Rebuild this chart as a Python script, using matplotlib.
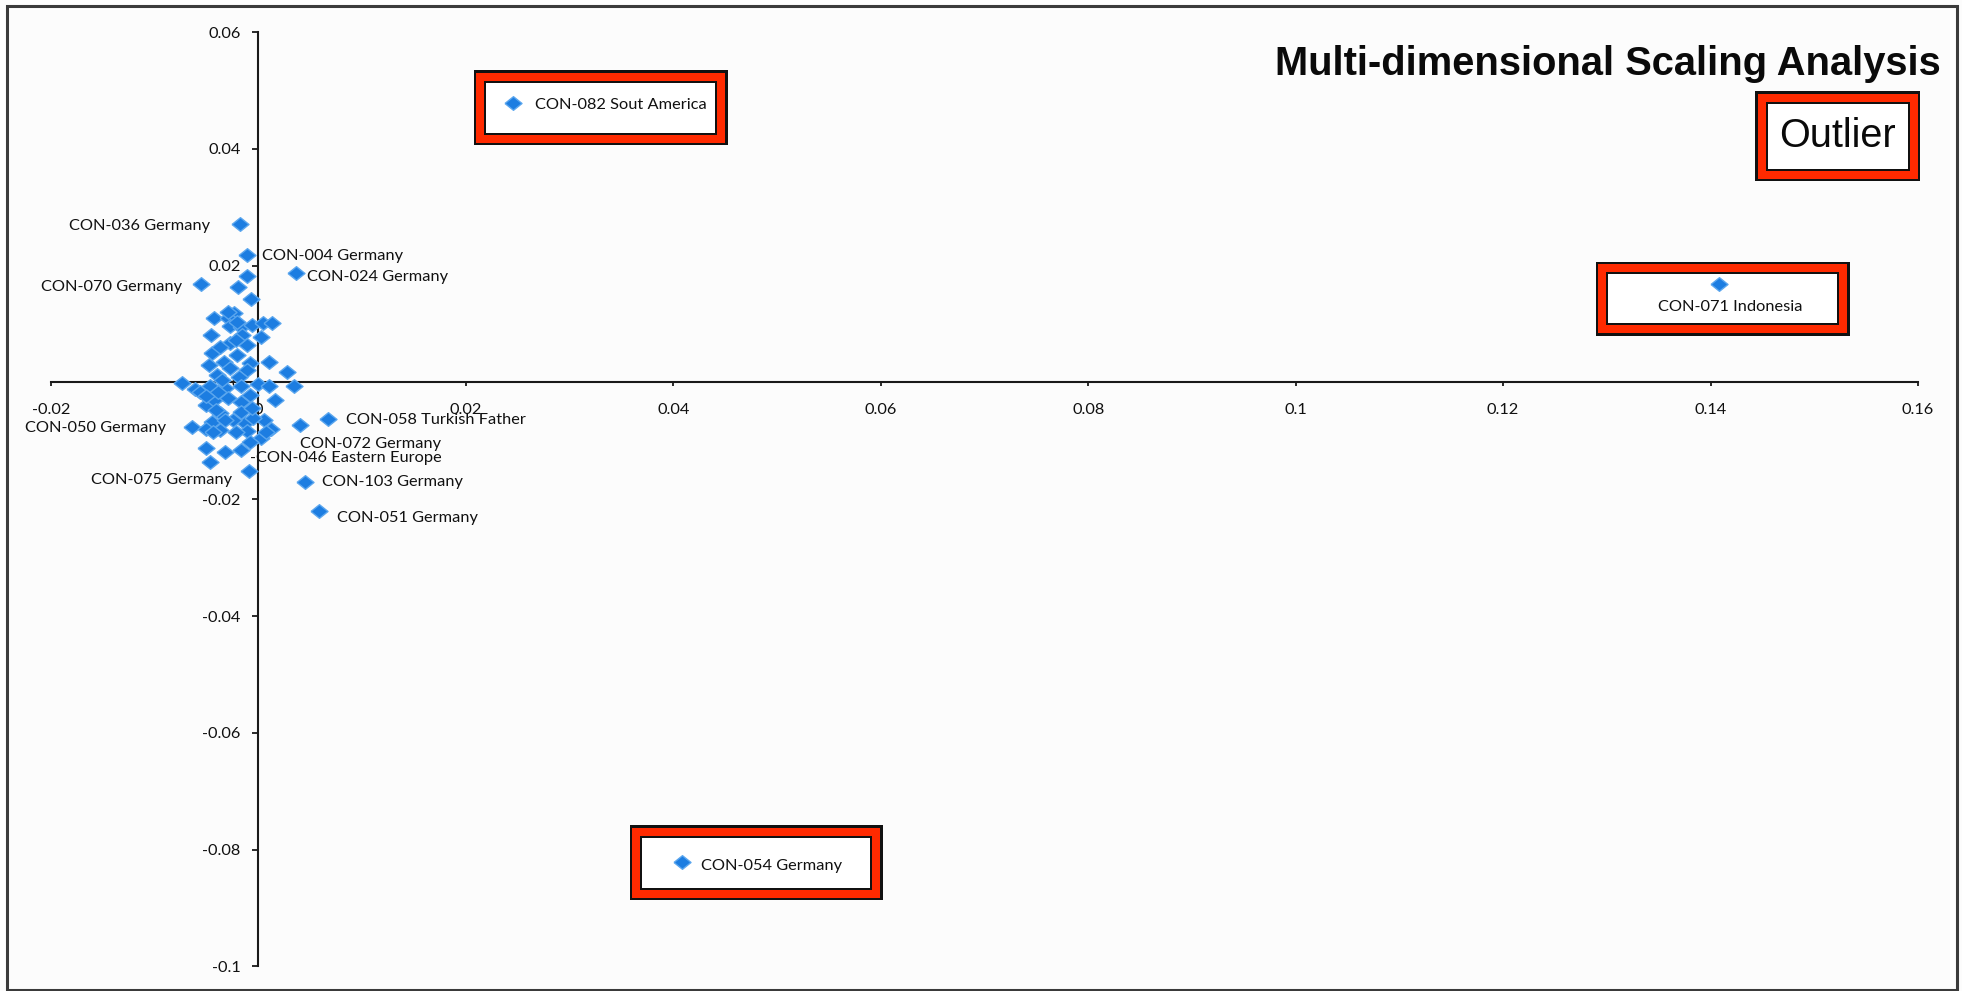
import matplotlib
matplotlib.use("Agg")
import matplotlib.pyplot as plt
from matplotlib.patches import Rectangle
from matplotlib.transforms import IdentityTransform
from matplotlib.ticker import FuncFormatter, FixedLocator

# ---- MDS coordinates (dimension 1, dimension 2) ----
point_x = [
    -0.0018, -0.0011, 0.0036, -0.0055, -0.0011, -0.0020, -0.0007, -0.0043,
    -0.0024, -0.0029, -0.0027, -0.0017, -0.0006, 0.0004, 0.0013, -0.0046,
    -0.0016, 0.0002, -0.0027, -0.0011, -0.0045, -0.0021, 0.0010, -0.0033,
    -0.0008, -0.0048, -0.0027, -0.0011, 0.0028, -0.0040, -0.0019, 0.0000,
    0.0034, -0.0074, -0.0061, -0.0047, -0.0032, -0.0017, 0.0010, 0.0016,
    -0.0051, -0.0043, -0.0029, -0.0008, -0.0017, -0.0037, -0.0045, -0.0017,
    -0.0013, 0.0005, 0.0012, -0.0064, -0.0051, -0.0037, -0.0011, 0.0002,
    0.0040, 0.0067, -0.0051, -0.0032, -0.0017, -0.0047, -0.0009, 0.0045,
    0.0058, 0.0007, -0.0005, -0.0025, -0.0039, -0.0056,
    -0.0029, -0.0021, -0.0022, -0.0037, -0.0051, -0.0041, -0.0032, -0.0044,
    -0.0022, -0.0008, -0.0006, -0.0035,
    0.0245, 0.1408, 0.0408,
]
point_y = [
    0.0272, 0.0218, 0.0187, 0.0168, 0.0183, 0.0164, 0.0143, 0.0110,
    0.0118, 0.0110, 0.0097, 0.0095, 0.0098, 0.0102, 0.0102, 0.0082,
    0.0081, 0.0078, 0.0067, 0.0064, 0.0050, 0.0047, 0.0035, 0.0035,
    0.0033, 0.0030, 0.0024, 0.0021, 0.0017, 0.0013, 0.0010, -0.0002,
    -0.0007, -0.0001, -0.0011, -0.0007, -0.0010, -0.0006, -0.0007, -0.0030,
    -0.0039, -0.0030, -0.0027, -0.0022, -0.0034, -0.0053, -0.0067, -0.0050,
    -0.0070, -0.0064, -0.0079, -0.0077, -0.0080, -0.0082, -0.0084, -0.0096,
    -0.0073, -0.0063, -0.0113, -0.0119, -0.0116, -0.0136, -0.0152, -0.0170,
    -0.0220, -0.0085, -0.0061, -0.0064, -0.0016, -0.0016,
    0.0121, 0.0103, 0.0073, 0.0061, -0.0023, -0.0047, -0.0064, -0.0085,
    -0.0085, -0.0102, -0.0044, 0.0004,
    0.0478, 0.0169, -0.0822,
]
point_label = [
    "CON-036 Germany", "CON-004 Germany", "CON-024 Germany", "CON-070 Germany",
    "", "", "", "", "", "", "", "", "", "", "", "", "", "", "", "", "", "",
    "", "", "", "", "", "", "", "", "", "", "", "", "", "", "", "", "", "",
    "", "", "", "", "", "", "", "", "", "", "", "CON-050 Germany", "", "",
    "", "", "CON-072 Germany", "CON-058 Turkish Father", "", "", "",
    "CON-075 Germany", "-CON-046 Eastern Europe", "CON-103 Germany",
    "CON-051 Germany", "", "", "", "", "",
    "", "", "", "", "", "", "", "", "", "", "", "",
    "CON-082 Sout America", "CON-071 Indonesia", "CON-054 Germany",
]

x_ticks = [-0.02, 0, 0.02, 0.04, 0.06, 0.08, 0.1, 0.12, 0.14, 0.16]
y_ticks = [-0.1, -0.08, -0.06, -0.04, -0.02, 0, 0.02, 0.04, 0.06]

title_text = "Multi-dimensional Scaling Analysis"
legend_text = "Outlier"

# ---- styling ----
W, H = 1962, 991
DPI = 100
MARK = "#1C7DE1"
MARK_EDGE = "#5AA6EE"
RED = "#FF2A00"
LABEL_FONT = ["Lato", "DejaVu Sans"]
LABEL_SIZE = 11.8

# label placement: (dx px, dy px downward, horizontal alignment)
label_offsets = {
    "CON-036 Germany": (-30, 2, "right"),
    "CON-004 Germany": (15, 1, "left"),
    "CON-024 Germany": (11, 4, "left"),
    "CON-070 Germany": (-19, 3, "right"),
    "CON-058 Turkish Father": (18, 1, "left"),
    "CON-050 Germany": (-26, 1, "right"),
    "CON-072 Germany": (0, 19, "left"),
    "-CON-046 Eastern Europe": (1, -13, "left"),
    "CON-075 Germany": (22, 18, "right"),
    "CON-103 Germany": (17, 0, "left"),
    "CON-051 Germany": (18, 7, "left"),
    "CON-082 Sout America": (22, 2, "left"),
    "CON-071 Indonesia": (11, 23, "center"),
    "CON-054 Germany": (19, 4, "left"),
}
# highlight frames around outliers: (left, right, top, bottom) px from the marker
frame_extent = {
    "CON-082 Sout America": (-39, 215, -33, 42),
    "CON-071 Indonesia": (-123, 131, -22, 52),
    "CON-054 Germany": (-52, 201, -37, 38),
}

fig = plt.figure(figsize=(W / DPI, H / DPI), dpi=DPI, facecolor="#FCFCFC")
ax = fig.add_axes([51 / W, (H - 966.4) / H, (1918 - 51) / W, (966.4 - 32) / H])
ax.set_facecolor("none")
ax.set_xlim(-0.02, 0.16)
ax.set_ylim(-0.1, 0.06)

for side in ("top", "right"):
    ax.spines[side].set_visible(False)
ax.spines["left"].set_position(("data", 0))
ax.spines["bottom"].set_position(("data", 0))
for side in ("left", "bottom"):
    ax.spines[side].set_linewidth(1.5)
    ax.spines[side].set_color("#1a1a1a")

ax.xaxis.set_major_locator(FixedLocator(x_ticks))
ax.yaxis.set_major_locator(FixedLocator(y_ticks))
fmt = FuncFormatter(lambda v, p: "%g" % round(v, 4))
ax.xaxis.set_major_formatter(fmt)
ax.yaxis.set_major_formatter(fmt)
ax.tick_params(axis="x", direction="out", length=3, width=1.3, color="#1a1a1a",
               pad=11.5, labelsize=LABEL_SIZE, labelcolor="#111111")
ax.tick_params(axis="y", direction="out", length=4.3, width=1.3, color="#1a1a1a",
               pad=8.5, labelsize=LABEL_SIZE, labelcolor="#111111")
for t in ax.get_xticklabels() + ax.get_yticklabels():
    t.set_family(LABEL_FONT)

# diamond marker, slightly wider than tall
diamond = [(-1, 0), (0, 0.8), (1, 0), (0, -0.8), (-1, 0)]
ax.scatter(point_x, point_y, marker=diamond, s=150, c=MARK,
           edgecolors=MARK_EDGE, linewidths=1.0, zorder=3, clip_on=False)

ident = IdentityTransform()


def framed_box(x0, y0, x1, y1):
    """Red frame with thin black rules; coordinates in pixels from top-left."""
    layers = [(0, "#111111"), (2.5, RED), (10.5, "#111111"), (12.5, "white")]
    for inset, col in layers:
        ax.add_patch(Rectangle((x0 + inset, H - y1 + inset),
                               (x1 - x0) - 2 * inset, (y1 - y0) - 2 * inset,
                               transform=ident, facecolor=col, edgecolor="none",
                               zorder=1, clip_on=False))


for name, (l, r, t, b) in frame_extent.items():
    i = point_label.index(name)
    px, py = ax.transData.transform((point_x[i], point_y[i]))
    py = H - py
    framed_box(px + l, py + t, px + r, py + b)

for x, y, name in zip(point_x, point_y, point_label):
    if not name:
        continue
    dx, dy, ha = label_offsets[name]
    ax.annotate(name, (x, y), xytext=(dx, -dy), textcoords="offset pixels",
                ha=ha, va="center", fontsize=LABEL_SIZE, family=LABEL_FONT,
                color="#111111", zorder=4, annotation_clip=False)

# title and legend-style key
fig.text(1941 / W, 1 - 75 / H, title_text, ha="right", va="baseline",
         fontsize=28.7, fontweight="bold", family=["Liberation Sans", "DejaVu Sans"],
         color="#0a0a0a")
framed_box(1755, 91, 1920, 181)
fig.text((1755 + 1920) / 2 / W, 1 - 136 / H, legend_text, ha="center", va="center",
         fontsize=28.5, family=["Liberation Sans", "DejaVu Sans"], color="#0a0a0a")

# outer frame of the panel
fig.add_artist(Rectangle((7 / W, 1 / H), (1957 - 7) / W, (985 - 1) / H,
                         transform=fig.transFigure, facecolor="none",
                         edgecolor="#3a3a3a", linewidth=2.2))

fig.savefig("out.png", dpi=DPI, facecolor=fig.get_facecolor())
